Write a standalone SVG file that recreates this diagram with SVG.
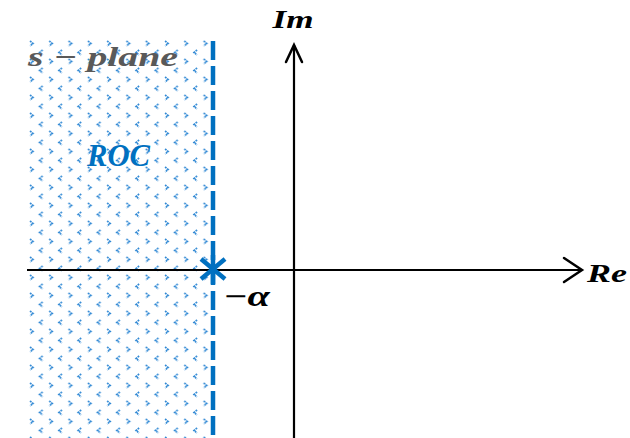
<svg xmlns="http://www.w3.org/2000/svg" width="630" height="438" viewBox="0 0 630 438">
  <defs>
    <pattern id="roc" patternUnits="userSpaceOnUse" x="28" y="40" width="19.3" height="18">
      <polyline points="2,1 5,3.5 2,6" fill="none" stroke="#2f88d4" stroke-width="1.7" stroke-dasharray="1.8 0.7"/>
      <polyline points="14.6,10 11.6,12.5 14.6,15" fill="none" stroke="#2f88d4" stroke-width="1.7" stroke-dasharray="1.8 0.7"/>
    </pattern>
    <style>
      .axis { stroke: #000; stroke-width: 2.2; fill: none; }
      .head { stroke: #000; stroke-width: 2.5; fill: none; stroke-linecap: round; stroke-linejoin: miter; }
      .math { font-family: "Liberation Serif", "DejaVu Serif", serif; font-weight: bold; font-style: italic; }
    </style>
  </defs>
  <rect width="630" height="438" fill="#fff"/>
  <g id="roc-region">
    <rect x="28" y="40" width="183" height="398" fill="url(#roc)"/>
    <line x1="213" y1="41" x2="213" y2="438" stroke="#0070C0" stroke-width="4.5" stroke-dasharray="19 6"/>
  </g>
  <g id="connectors">
    <line class="axis" x1="27" y1="270" x2="582" y2="270"/>
    <polyline class="head" points="564,258 582,270 564,282"/>
    <line class="axis" x1="294" y1="438" x2="294" y2="45"/>
    <polyline class="head" points="286,62 294,45 302,62"/>
  </g>
  <g id="pole">
    <g stroke="#0070C0" stroke-width="4.5" stroke-linecap="butt">
      <line x1="213" y1="255" x2="213" y2="284"/>
      <line x1="201" y1="259" x2="225" y2="279"/>
      <line x1="201" y1="279" x2="225" y2="259"/>
    </g>
  </g>
  <g id="labels">
    <text class="math" x="293" y="28" font-size="25" text-anchor="middle" fill="#000" textLength="41" lengthAdjust="spacingAndGlyphs">Im</text>
    <text class="math" x="587" y="282" font-size="25" fill="#000" textLength="40" lengthAdjust="spacingAndGlyphs">Re</text>
    <text class="math" x="223" y="306" font-size="29" fill="#000" textLength="47" lengthAdjust="spacingAndGlyphs">−α</text>
    <text class="math" x="28" y="66" font-size="28" fill="#595959" textLength="150" lengthAdjust="spacingAndGlyphs">s − plane</text>
    <text class="math" x="87" y="166" font-size="32" fill="#0070C0" textLength="63" lengthAdjust="spacingAndGlyphs">ROC</text>
  </g>
</svg>
